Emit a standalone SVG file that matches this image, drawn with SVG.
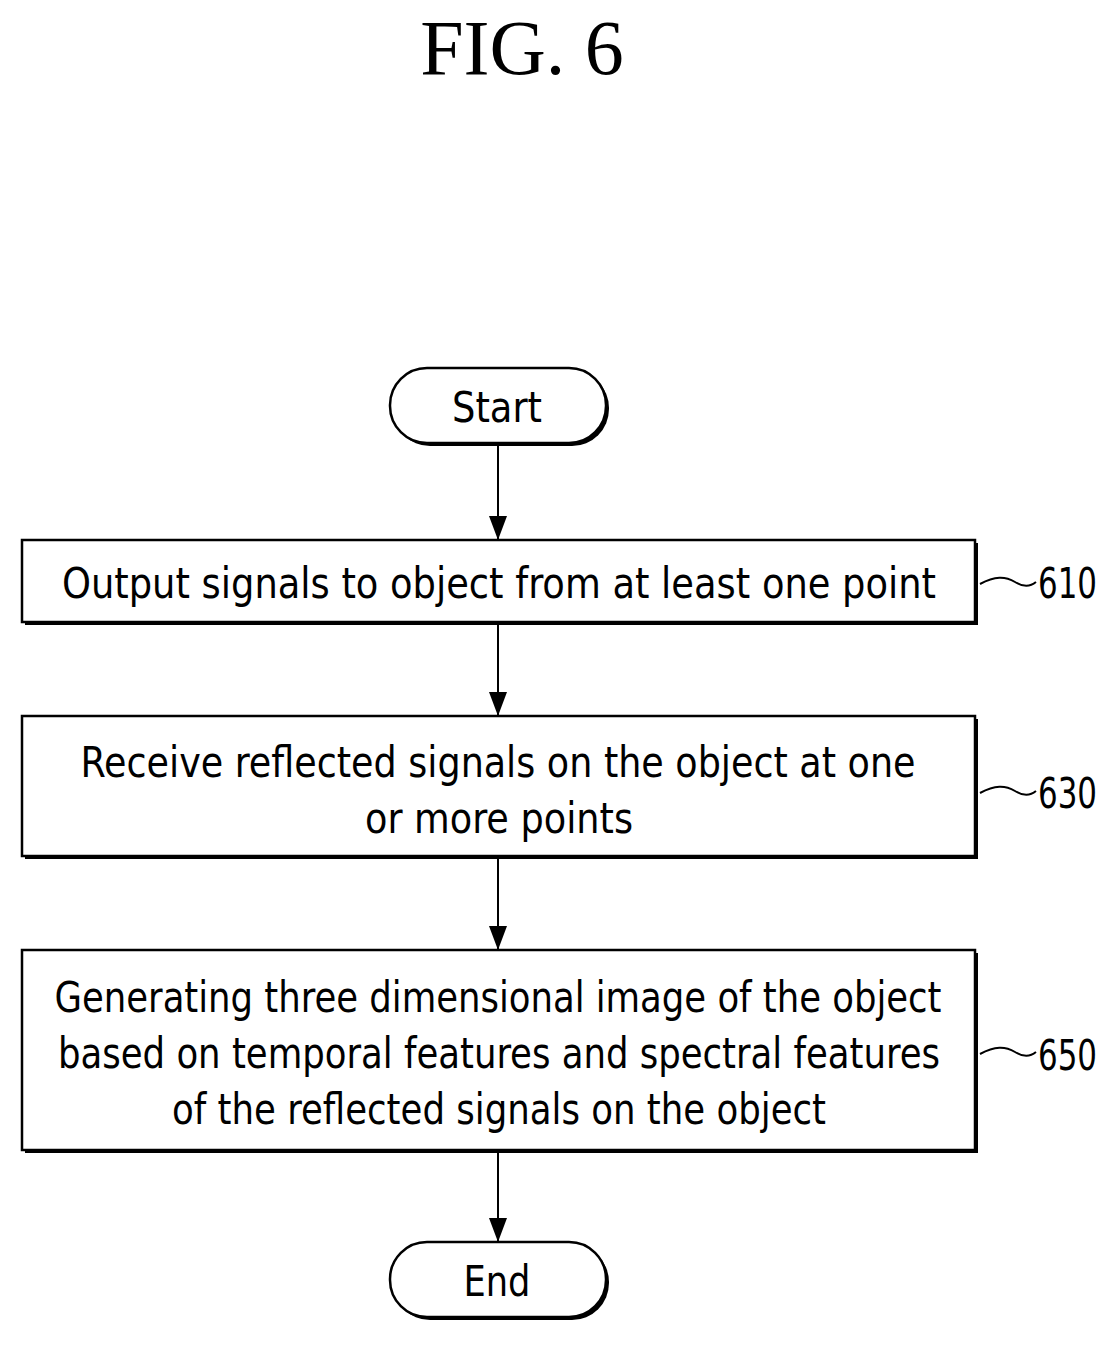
<svg xmlns="http://www.w3.org/2000/svg" width="1116" height="1345" viewBox="0 0 1116 1345">
<style>
.b{fill:#fff;stroke:#000;stroke-width:2.5}
.s{fill:#000}
.t{font-family:"DejaVu Sans Condensed","DejaVu Sans",sans-serif;font-size:42px;fill:#000;text-anchor:middle}
.l{font-family:"DejaVu Sans Condensed","DejaVu Sans",sans-serif;font-size:42px;fill:#000}
.c{fill:none;stroke:#000;stroke-width:2}
</style>
<defs><marker id="h" markerWidth="24" markerHeight="18" refX="24" refY="9" orient="auto" markerUnits="userSpaceOnUse" viewBox="0 0 24 18"><path d="M0,0 L24,9 L0,18 Z"/></marker></defs>
<text x="522" y="74" font-family="Liberation Serif,serif" font-size="78" text-anchor="middle">FIG. 6</text>
<g id="connectors">
<path class="c" d="M498,446 V540" marker-end="url(#h)"/>
<path class="c" d="M498,625 V716" marker-end="url(#h)"/>
<path class="c" d="M498,859 V950" marker-end="url(#h)"/>
<path class="c" d="M498,1153 V1242" marker-end="url(#h)"/>
<path class="c" d="M980,584 C995,576 1005,576 1015,582 C1023,587 1030,587 1036,582"/>
<path class="c" d="M980,793 C995,785 1005,785 1015,791 C1023,796 1030,796 1036,791"/>
<path class="c" d="M980,1054 C995,1046 1005,1046 1015,1052 C1023,1057 1030,1057 1036,1052"/>
</g>
<g id="start"><rect x="393" y="371" width="216" height="75" rx="37" class="s"/><rect x="390" y="368" width="216" height="75" rx="37" class="b"/><text class="t" x="497" y="422" textLength="90" lengthAdjust="spacingAndGlyphs">Start</text></g>
<g id="n610"><rect x="25" y="543" width="953" height="82" class="s"/><rect x="22" y="540" width="953" height="82" class="b"/><text class="t" x="499" y="598" textLength="874" lengthAdjust="spacingAndGlyphs">Output signals to object from at least one point</text><text class="l" x="1038" y="598" textLength="59" lengthAdjust="spacingAndGlyphs">610</text></g>
<g id="n630"><rect x="25" y="719" width="953" height="140" class="s"/><rect x="22" y="716" width="953" height="140" class="b"/><text class="t" x="498" y="777" textLength="835" lengthAdjust="spacingAndGlyphs">Receive reflected signals on the object at one</text><text class="t" x="499" y="833" textLength="268" lengthAdjust="spacingAndGlyphs">or more points</text><text class="l" x="1038" y="808" textLength="59" lengthAdjust="spacingAndGlyphs">630</text></g>
<g id="n650"><rect x="25" y="953" width="953" height="200" class="s"/><rect x="22" y="950" width="953" height="200" class="b"/><text class="t" x="498" y="1012" textLength="887" lengthAdjust="spacingAndGlyphs">Generating three dimensional image of the object</text><text class="t" x="499" y="1068" textLength="882" lengthAdjust="spacingAndGlyphs">based on temporal features and spectral features</text><text class="t" x="499" y="1124" textLength="654" lengthAdjust="spacingAndGlyphs">of the reflected signals on the object</text><text class="l" x="1038" y="1070" textLength="59" lengthAdjust="spacingAndGlyphs">650</text></g>
<g id="end"><rect x="393" y="1245" width="216" height="75" rx="37" class="s"/><rect x="390" y="1242" width="216" height="75" rx="37" class="b"/><text class="t" x="497" y="1296" textLength="67" lengthAdjust="spacingAndGlyphs">End</text></g>
</svg>
